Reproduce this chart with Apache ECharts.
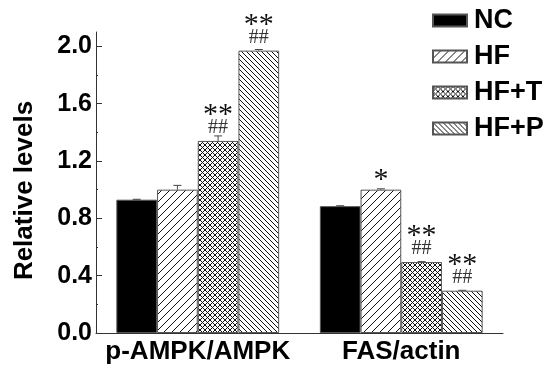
<!DOCTYPE html>
<html>
<head>
<meta charset="utf-8">
<script src="https://cdn.jsdelivr.net/npm/echarts@6/dist/echarts.min.js"></script>
<style>html,body{margin:0;padding:0;background:#fff}#c{width:548px;height:374px}</style>
</head>
<body>
<div id="c"></div>
<script>
// ---- data ----
const categories = ['p-AMPK/AMPK', 'FAS/actin'];
const seriesNames = ['NC', 'HF', 'HF+T', 'HF+P'];
const ncValues  = [0.93, 0.885];
const hfValues  = [1.00, 1.00];
const hftValues = [1.34, 0.495];
const hfpValues = [1.97, 0.295];
const ncErrors  = [0.003, 0.003];
const hfErrors  = [0.030, 0.006];
const hftErrors = [0.035, 0.003];
const hfpErrors = [0.008, 0.003];
const ncStars  = ['', ''];
const hfStars  = ['', '*'];
const hftStars = ['**', '**'];
const hfpStars = ['**', '**'];
const ncHashes  = ['', ''];
const hfHashes  = ['', ''];
const hftHashes = ['##', '##'];
const hfpHashes = ['##', '##'];
const yTicks = [0.0, 0.4, 0.8, 1.2, 1.6, 2.0];

// ---- styles ----
const FONT = 'Liberation Sans';
function hatch(kind, p, lw) {
  const c = document.createElement('canvas');
  c.width = p; c.height = p;
  const g = c.getContext('2d');
  g.fillStyle = '#fff'; g.fillRect(0, 0, p, p);
  g.strokeStyle = '#111'; g.lineWidth = lw;
  g.beginPath();
  for (let k = -1; k <= 1; k++) {
    if (kind === 'fwd' || kind === 'cross') { g.moveTo(k * p, p); g.lineTo(k * p + p, 0); }
    if (kind === 'back' || kind === 'cross') { g.moveTo(k * p, 0); g.lineTo(k * p + p, p); }
  }
  g.stroke();
  return { image: c, repeat: 'repeat' };
}
const fills = ['#000', hatch('fwd', 8, 1), hatch('cross', 5, 1), hatch('back', 5, 1)];
const values = [ncValues, hfValues, hftValues, hfpValues];
const errors = [ncErrors, hfErrors, hftErrors, hfpErrors];
const stars = [ncStars, hfStars, hftStars, hfpStars];
const hashes = [ncHashes, hfHashes, hftHashes, hfpHashes];

const series = [];
seriesNames.forEach((name, si) => {
  series.push({
    name: name,
    type: 'bar',
    data: values[si],
    barGap: '0%',
    barCategoryGap: '20%',
    itemStyle: { color: fills[si], borderColor: '#555', borderWidth: 1 },
    label: {
      show: true,
      position: 'top',
      distance: 5,
      formatter: (p) => {
        const s = stars[si][p.dataIndex], h = hashes[si][p.dataIndex];
        if (!s && !h) return '';
        return (s ? '{a|' + s + '}' : '') + (h ? '\n{b|' + h + '}' : '');
      },
      rich: {
        a: { fontFamily: 'Liberation Serif', fontSize: 30, lineHeight: 18, color: '#111', padding: [8, 0, 0, 0] },
        b: { fontFamily: 'Liberation Serif', fontSize: 20, lineHeight: 16, color: '#333' }
      }
    },
    z: 2
  });
});
seriesNames.forEach((name, si) => {
  series.push({
    type: 'custom',
    silent: true,
    z: 3,
    data: categories.map((c, ci) => [ci, values[si][ci], errors[si][ci]]),
    renderItem: function (params, api) {
      const ci = api.value(0), v = api.value(1), e = api.value(2);
      const base = api.coord([ci, v]);
      const top = api.coord([ci, v + e]);
      const band = api.size([1, 0])[0];
      const usable = band * 0.8;
      const bw = usable / 4;
      const x = base[0] - usable / 2 + bw * (si + 0.5);
      return {
        type: 'group',
        children: [
          { type: 'line', shape: { x1: x, y1: base[1], x2: x, y2: top[1] }, style: { stroke: '#444', lineWidth: 1 } },
          { type: 'line', shape: { x1: x - 4, y1: top[1], x2: x + 4, y2: top[1] }, style: { stroke: '#444', lineWidth: 1 } }
        ]
      };
    }
  });
});

const chart = echarts.init(document.getElementById('c'), null, { renderer: 'canvas' });
chart.setOption({
  animation: false,
  backgroundColor: '#fff',
  grid: { left: 96, right: 45, top: 32, bottom: 41, containLabel: false },
  legend: {
    data: seriesNames,
    orient: 'vertical',
    left: 432,
    top: 7,
    padding: 0,
    icon: 'rect',
    itemWidth: 34,
    itemHeight: 12,
    itemGap: 9,
    textStyle: { fontFamily: FONT, fontWeight: 'bold', fontSize: 27, color: '#000', lineHeight: 26, padding: [0, 0, 0, 2] }
  },
  xAxis: {
    type: 'category',
    data: categories,
    axisLine: { lineStyle: { color: '#333', width: 1 } },
    axisTick: { inside: true, length: 3, lineStyle: { color: '#999' } },
    axisLabel: { interval: 0, fontFamily: FONT, fontWeight: 'bold', fontSize: 26, color: '#000', margin: 6 }
  },
  yAxis: {
    type: 'value',
    min: 0,
    max: 2.1,
    interval: 0.4,
    name: 'Relative levels',
    nameLocation: 'middle',
    nameGap: 58,
    nameTextStyle: { fontFamily: FONT, fontWeight: 'bold', fontSize: 26, color: '#000', padding: [0, 16, 0, 0] },
    axisLine: { show: true, lineStyle: { color: '#333', width: 1 } },
    axisTick: { show: true, inside: true, length: 6, customValues: yTicks, lineStyle: { color: '#333' } },
    minorTick: { show: true, splitNumber: 2, length: 2, lineStyle: { color: '#333' } },
    axisLabel: { customValues: yTicks, formatter: (v) => v.toFixed(1), fontFamily: FONT, fontWeight: 'bold', fontSize: 25, color: '#000', margin: 4 },
    splitLine: { show: false }
  },
  series: series
});
</script>
</body>
</html>
